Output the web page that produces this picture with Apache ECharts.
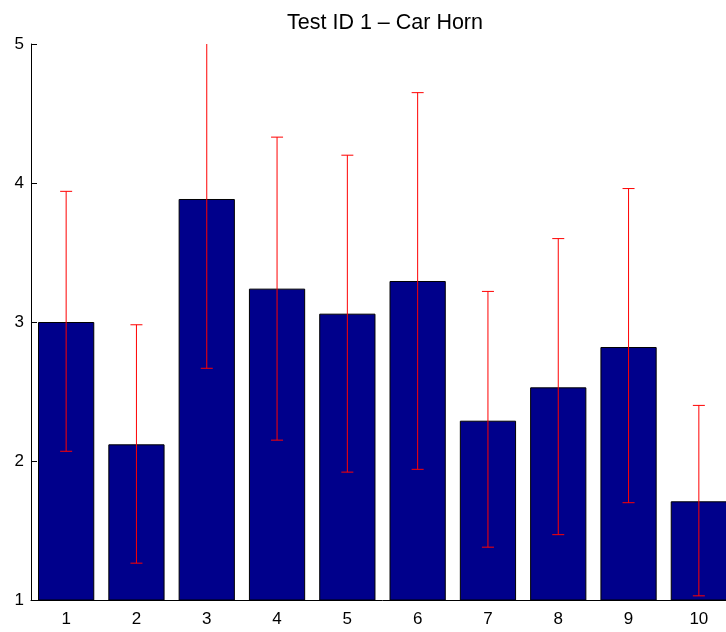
<!DOCTYPE html>
<html>
<head>
<meta charset="utf-8">
<script src="https://cdn.jsdelivr.net/npm/echarts@6/dist/echarts.min.js"></script>
<style>html,body{margin:0;padding:0;background:#fff;overflow:hidden;width:726px;height:632px;}#c{width:740px;height:632px;}</style>
</head>
<body>
<div id="c"></div>
<script>
var categories = ['1','2','3','4','5','6','7','8','9','10'];
var means = [3.00, 2.12, 3.885, 3.24, 3.06, 3.295, 2.29, 2.53, 2.82, 1.71];
var lower = [2.07, 1.265, 2.667, 2.15, 1.92, 1.94, 1.38, 1.47, 1.70, 1.03];
var upper = [3.94, 2.98, 5.10, 4.33, 4.20, 4.65, 3.22, 3.60, 3.96, 2.40];
var yTicks = [1, 2, 3, 4, 5];
var titleText = 'Test ID 1 \u2013 Car Horn';

var errData = categories.map(function (c, i) { return [i, lower[i], upper[i]]; });
var font = 'Liberation Sans, Arial, Helvetica, sans-serif';

var chart = echarts.init(document.getElementById('c'));
chart.setOption({
  animation: false,
  backgroundColor: '#fff',
  title: {
    text: titleText, left: 380, top: 7, textAlign: 'center',
    textStyle: { fontFamily: font, fontSize: 21.5, fontWeight: 'normal', color: '#000' }
  },
  grid: { left: 31, right: 6, top: 44, bottom: 32, containLabel: false },
  xAxis: {
    type: 'category', data: categories, boundaryGap: true,
    axisLine: { lineStyle: { color: '#000', width: 1 } },
    axisTick: { show: false },
    axisLabel: { color: '#000', fontFamily: font, fontSize: 17, margin: 11 }
  },
  yAxis: {
    type: 'value', min: yTicks[0], max: yTicks[yTicks.length - 1], interval: 1,
    axisLine: { show: true, lineStyle: { color: '#000', width: 1 } },
    axisTick: { show: true, inside: true, length: 6, lineStyle: { color: '#000' } },
    splitLine: { show: false },
    axisLabel: { color: '#000', fontFamily: font, fontSize: 17, margin: 7 }
  },
  series: [
    {
      type: 'bar', data: means, barWidth: '80%',
      itemStyle: { color: '#00008B', borderColor: '#000', borderWidth: 1 },
      z: 2
    },
    {
      type: 'custom', data: errData, clip: true, z: 3,
      renderItem: function (params, api) {
        var x = api.value(0);
        var lo = api.coord([x, api.value(1)]);
        var hi = api.coord([x, api.value(2)]);
        var hw = 6;
        var st = { stroke: '#ff0000', lineWidth: 1 };
        return {
          type: 'group',
          children: [
            { type: 'line', shape: { x1: lo[0], y1: lo[1], x2: hi[0], y2: hi[1] }, style: st },
            { type: 'line', shape: { x1: lo[0] - hw, y1: lo[1], x2: lo[0] + hw, y2: lo[1] }, style: st },
            { type: 'line', shape: { x1: hi[0] - hw, y1: hi[1], x2: hi[0] + hw, y2: hi[1] }, style: st }
          ]
        };
      }
    }
  ]
});
</script>
</body>
</html>
